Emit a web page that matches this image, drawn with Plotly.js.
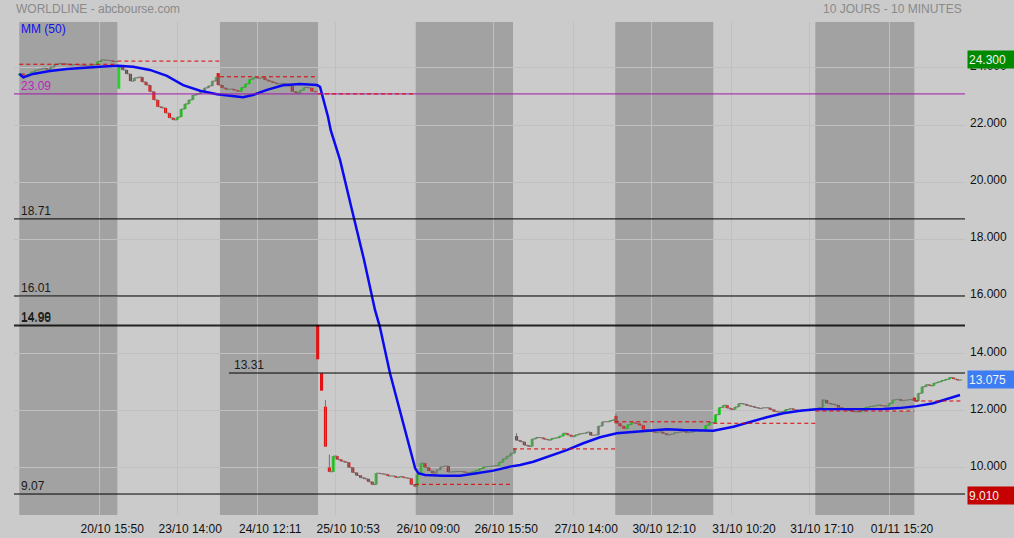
<!DOCTYPE html>
<html><head><meta charset="utf-8">
<script src="https://cdn.plot.ly/plotly-3.0.1.min.js"></script>
<style>html,body{margin:0;padding:0;background:#cbcbcb;}#chart{width:1014px;height:538px;}</style>
</head><body><div id="chart"></div>
<script>
// ---------- DATA ----------
const barsPerDay = 51;      // 10-minute slots per session
const barStep = 2;          // one candle read every 2 slots
// closes per session (20/10 .. 02/11)
const day1  = [23.80,23.72,23.78,23.86,23.92,23.95,23.99,23.95,24.03,24.12,24.16,24.15,24.13,24.10,24.12,24.10,24.09,24.07,24.09,24.12,24.22,24.28,24.27,24.26,24.22,24.24];
const day2  = [24.03,23.93,23.79,23.54,23.65,23.68,23.51,23.40,23.17,22.88,22.64,22.60,22.42,22.25,22.18,22.28,22.56,22.74,22.88,23.05,23.09,23.19,23.30,23.37,23.54,23.68];
const day3  = [23.40,23.30,23.25,23.26,23.22,23.18,23.32,23.44,23.60,23.66,23.64,23.66,23.58,23.53,23.48,23.44,23.46,23.44,23.36,23.17,23.12,23.22,23.32,23.30,23.18,23.15];
const day4  = [13.79,12.69,10.73,9.85,10.40,10.28,10.22,10.18,10.00,9.82,9.72,9.64,9.60,9.50,9.40,9.80,9.78,9.76,9.70,9.70,9.65,9.68,9.64,9.62,9.40,9.33];
const day5  = [9.75,10.15,10.00,9.88,9.80,9.92,10.02,10.05,9.84,9.85,9.86,9.86,9.83,9.81,9.85,9.90,9.96,10.02,10.03,10.05,10.06,10.18,10.30,10.40,10.50,10.67];
const day6  = [10.95,10.90,10.78,10.74,11.00,11.05,11.04,10.99,10.96,11.02,11.04,11.10,11.20,11.14,11.08,11.14,11.18,11.20,11.24,11.13,11.14,11.45,11.60,11.60,11.65,11.69];
const day7  = [11.55,11.45,11.36,11.50,11.57,11.54,11.48,11.33,11.30,11.26,11.22,11.25,11.19,11.14,11.17,11.22,11.24,11.26,11.22,11.24,11.30,11.28,11.32,11.48,11.57,11.57];
const day8  = [11.85,12.10,12.18,12.08,12.03,12.12,12.24,12.22,12.17,12.14,12.10,12.07,12.09,12.09,12.03,11.96,11.94,11.96,12.03,12.06,12.02,11.99,12.01,12.03,12.04,12.04];
const day9  = [12.06,12.10,12.36,12.25,12.22,12.19,12.10,12.06,12.01,11.98,11.95,11.95,12.00,12.11,12.14,12.16,12.19,12.16,12.15,12.25,12.37,12.39,12.34,12.36,12.38,12.36];
const day10 = [12.33,12.60,12.83,12.90,12.86,12.96,13.00,13.05,13.09,13.15,13.10,13.06,13.075];
const dayOpens = [23.76,23.27,23.82,14.99,9.36,11.10,11.80,11.57,12.02,12.45];
// opening gaps inside a session (25/10)
const gapDay   = [3,3,3];
const gapIndex = [1,2,3];
const gapOpen  = [13.30,12.13,10.00];
// notable wicks
const wickDay   = [0,3,3,4,5,6,8];
const wickIndex = [21,2,3,0,0,0,2];
const wickHigh  = [24.30,12.36,10.45,null,11.20,11.88,12.40];
const wickLow   = [null,null,null,9.07,null,null,null];
// session boundaries (slot units) and previous-close dashed levels
const dayStart  = [0,50.3,102.9,153.2,202.9,253.2,305.6,355.9,408.2,459.0];
const lastSlot  = 483.5;
const prevClose = [24.13,24.24,23.69,23.09,9.41,10.65,11.60,11.55,11.98,12.33];
// MM (50)
const mmBar = [0,2.1,7.0,15.7,24.5,32.7,41.4,50.6,58.3,67.0,75.7,84.0,92.7,101.4,109.6,114.7,119.8,127.0,135.2,143.9,152.7,154.2,155.1,158.3,159.7,164.5,170.6,176.8,182.4,184.9,190.1,195.2,200.4,203.0,204.6,208.1,217.4,226.0,234.6,243.1,251.6,256.8,263.6,272.2,280.7,289.2,297.8,306.4,315.0,323.4,332.0,340.5,355.9,366.2,374.7,383.3,391.8,400.4,408.9,417.4,434.6,443.1,451.1,460.2,468.7,477.3,482.4];
const mmValue = [23.79,23.67,23.79,23.89,23.96,24.01,24.04,24.08,24.04,23.93,23.72,23.40,23.20,23.08,23.02,22.97,23.05,23.23,23.39,23.44,23.40,23.34,23.11,22.29,21.82,20.77,19.02,17.27,15.52,14.93,13.30,12.01,10.61,9.97,9.80,9.74,9.71,9.71,9.80,9.89,10.03,10.09,10.20,10.40,10.61,10.85,11.06,11.20,11.25,11.31,11.34,11.31,11.29,11.43,11.60,11.76,11.90,11.99,12.04,12.04,12.04,12.05,12.08,12.15,12.25,12.43,12.54];
// horizontal levels
const levelValues = [23.09,18.71,16.01,14.96,14.99,13.31,9.07];
const levelLabels = ['23.09','18.71','16.01','14.96','14.99','13.31','9.07'];
const levelStart  = [null,null,null,null,null,107.5,null];
// x ticks
const tickBars   = [41,81,122,162,203,243,284,324,365,405,446];
const tickLabels = ['20/10 15:50','23/10 14:00','24/10 12:11','25/10 10:53','26/10 09:00','26/10 15:50','27/10 14:00','30/10 12:10','31/10 10:20','31/10 17:10','01/11 15:20'];
// y ticks
const yTicks = [10,12,14,16,18,20,22,24];
// price badges
const badgeValues = [24.300,13.075,9.010];
const badgeLabels = ['24.300','13.075','9.010'];

// ---------- BUILD ----------
const days = [day1,day2,day3,day4,day5,day6,day7,day8,day9,day10];
const X=[],O=[],H=[],L=[],C=[];
let prev = null;
days.forEach((arr,d)=>{
  arr.forEach((c,i)=>{
    let o = (i===0) ? dayOpens[d] : prev;
    for(let g=0; g<gapDay.length; g++){ if(gapDay[g]===d && gapIndex[g]===i) o = gapOpen[g]; }
    let h = Math.max(o,c), l = Math.min(o,c);
    for(let w=0; w<wickDay.length; w++){
      if(wickDay[w]===d && wickIndex[w]===i){
        if(wickHigh[w]!==null) h = Math.max(h,wickHigh[w]);
        if(wickLow[w]!==null) l = Math.min(l,wickLow[w]);
      }
    }
    X.push(d*barsPerDay + i*barStep); O.push(o); H.push(h); L.push(l); C.push(c);
    prev = c;
  });
});

const FONT = 'Arial, "Liberation Sans", sans-serif';
const shapes = [];
const annotations = [];

// session bands
for(let d=0; d<dayStart.length; d+=2){
  const x1 = (d+1<dayStart.length) ? dayStart[d+1] : lastSlot;
  shapes.push({type:'rect', xref:'x', yref:'paper', x0:dayStart[d], x1:x1, y0:0, y1:1,
    fillcolor:'#a2a2a2', line:{width:0}, layer:'below'});
}
// horizontal levels
levelValues.forEach((v,i)=>{
  const purple = (i===0);
  const shp = {type:'line', yref:'y', y0:v, y1:v,
    line:{color: purple ? '#a01aa8' : '#000000', width:1}, layer:'above'};
  if(levelStart[i]===null){ shp.xref='paper'; shp.x0=0; shp.x1=1; }
  else { shp.xref='x'; shp.x0=levelStart[i]; shp.x1=lastSlot+1.5; }
  shapes.push(shp);
  annotations.push({text:levelLabels[i], xref: levelStart[i]===null ? 'paper':'x',
    x: levelStart[i]===null ? 0 : levelStart[i], xshift: levelStart[i]===null ? 5 : 3,
    y:v, yref:'y', xanchor:'left', yanchor:'bottom', yshift:-1, showarrow:false,
    font:{family:FONT, size:12, color: purple ? '#c020c0' : '#1a1a1a'}});
});
// previous close dashed lines
prevClose.forEach((v,d)=>{
  const x1 = (d+1<dayStart.length) ? dayStart[d+1] : lastSlot;
  shapes.push({type:'line', xref:'x', yref:'y', x0:dayStart[d], x1:x1, y0:v, y1:v,
    line:{color:'#dd0000', width:1, dash:'4px,3px'}, layer:'above'});
});

// badges
const badgeColors = ['#008a00','#3d7cf2','#c40000'];
badgeValues.forEach((v,i)=>{
  annotations.push({text:badgeLabels[i], xref:'paper', x:1, xshift:2, xanchor:'left',
    yref:'y', y:v, yanchor:'middle', showarrow:false, align:'left',
    width:44, height:15, borderpad:1, bgcolor:badgeColors[i],
    font:{family:FONT, size:12, color:'#f2f2f2'}});
});
// titles
annotations.push({text:'WORLDLINE - abcbourse.com', xref:'paper', yref:'paper', x:0, y:(515-9)/493,
  xanchor:'left', yanchor:'middle', showarrow:false, font:{family:FONT, size:12, color:'#8a8a8a'}});
annotations.push({text:'10 JOURS - 10 MINUTES', xref:'paper', yref:'paper', x:(964-14)/951, y:(515-9)/493,
  xanchor:'right', yanchor:'middle', showarrow:false, font:{family:FONT, size:12, color:'#8a8a8a'}});
annotations.push({text:'MM (50)', xref:'paper', yref:'paper', x:(19-14)/951, y:(515-29)/493,
  xanchor:'left', yanchor:'middle', showarrow:false, font:{family:FONT, size:12, color:'#1010ee'}});

// gray connector (split at the intraday gaps of 25/10) and wicks
const connX = [], connY = [], wickX = [], wickY = [];
for(let j=0;j<X.length;j++){
  if(j>0 && Math.abs(O[j]-C[j-1])>0.3){ connX.push(null); connY.push(null); }
  connX.push(X[j]); connY.push(C[j]);
  if(H[j]>Math.max(O[j],C[j]) || L[j]<Math.min(O[j],C[j])){
    wickX.push(X[j],X[j],null); wickY.push(L[j],H[j],null);
  }
}
// candle bodies as bars on the price scale
const bodyBase = [], bodyLen = [], bodyCol = [];
for(let j=0;j<X.length;j++){
  bodyBase.push(Math.min(O[j],C[j]));
  bodyLen.push(Math.max(Math.abs(C[j]-O[j]),0.012));
  bodyCol.push(C[j]>O[j] ? '#2cd02c' : (C[j]<O[j] ? '#e41212' : '#707070'));
}

const traces = [
  {type:'scatter', mode:'lines', x:connX, y:connY, line:{color:'#747474', width:1, shape:'hv'},
   connectgaps:false, hoverinfo:'skip'},
  {type:'scatter', mode:'lines', x:wickX, y:wickY, line:{color:'#707070', width:1},
   connectgaps:false, hoverinfo:'skip'},
  {type:'bar', x:X, y:bodyLen, base:bodyBase, width:1.6, marker:{color:bodyCol, line:{width:0}},
   hoverinfo:'skip'},
  {type:'scatter', mode:'lines', x:mmBar, y:mmValue, line:{color:'#0a0af0', width:2.5}, hoverinfo:'skip'}
];

const layout = {
  width:1014, height:538,
  margin:{l:14, r:49, t:22, b:23, pad:0},
  paper_bgcolor:'#cbcbcb', plot_bgcolor:'#cbcbcb',
  showlegend:false,
  font:{family:FONT, size:12, color:'#111111'},
  xaxis:{range:[-2.72,484.97], tickmode:'array', tickvals:tickBars, ticktext:tickLabels,
    showgrid:true, gridcolor:'#c0c0c0', gridwidth:1, zeroline:false, showline:false, ticks:'',
    ticklabelshift:13, ticklabelstandoff:5, fixedrange:true,
    tickfont:{family:FONT, size:12, color:'#111111'}},
  yaxis:{side:'right', range:[8.335,25.61], tickmode:'array', tickvals:yTicks,
    ticktext:yTicks.map(v=>v.toFixed(3)), showgrid:true, gridcolor:'#c0c0c0', gridwidth:1,
    zeroline:false, showline:false, ticks:'', ticklabelstandoff:4, ticklabelshift:-2, fixedrange:true,
    tickfont:{family:FONT, size:12, color:'#111111'}},
  shapes:shapes, annotations:annotations
};
Plotly.newPlot('chart', traces, layout, {staticPlot:true, displayModeBar:false});
</script></body></html>
